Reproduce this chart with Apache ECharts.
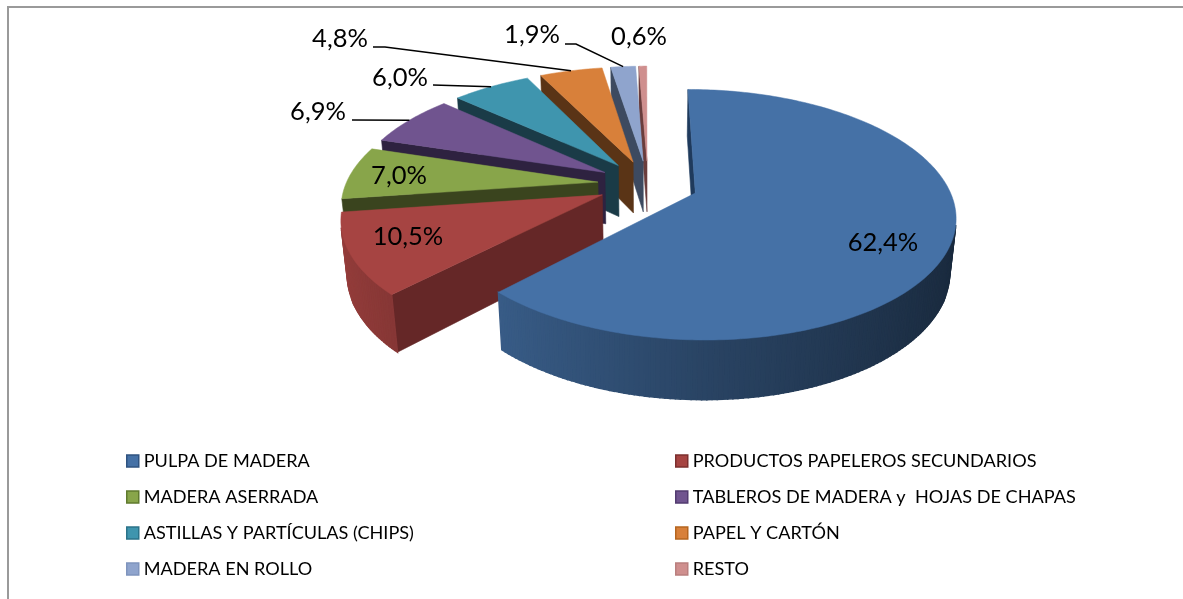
<!DOCTYPE html>
<html><head><meta charset="utf-8">
<style>html,body{margin:0;padding:0;background:#fff}#c{width:1183px;height:599px}</style>
<script src="https://cdn.jsdelivr.net/npm/echarts@6/dist/echarts.min.js"></script>
</head><body><div id="c"></div>
<script>
const categories = ['PULPA DE MADERA','PRODUCTOS PAPELEROS SECUNDARIOS','MADERA ASERRADA','TABLEROS DE MADERA y  HOJAS DE CHAPAS','ASTILLAS Y PARTÍCULAS (CHIPS)','PAPEL Y CARTÓN','MADERA EN ROLLO','RESTO'];
const shares = [62.4,10.5,7.0,6.9,6.0,4.8,1.9,0.6];
const shareLabels = ['62,4%','10,5%','7,0%','6,9%','6,0%','4,8%','1,9%','0,6%'];
const topColors = ['#4571a6','#a64442','#88a54a','#70548f','#3f95ae','#d8803a','#8fa4cd','#cf8f8e'];
const wallColors = ['#1f3a5c','#652727','#3a441e','#2e2240','#1a3b47','#5a3416','#3d4a60','#6a3d3c'];
const legendBorders = ['#2f5380','#7c2f2e','#5f7a2e','#523b70','#2b7389','#b5651f','#7f94bd','#b97f7e'];
// label centre and optional leader elbow, per slice (layout only)
const labelAt = [[883,243],[408,237],[399,176],[318,112],[400,78],[340,39],[532,35],[639,37]];
const leaderFrom = [null,null,null,[352,120],[433,85],[373,47],[565,44],null];
const leaderElbow = [null,null,null,null,null,[385,47],[576,44],null];

// projection of the tilted pie
const CX=648, CY=184, RX=252, RY=118.4, PERSP=0.171, DEPTH=53, DEPTHP=0.02, EXPLODE=0.2, START=-0.1;
const total = shares.reduce((a,b)=>a+b,0);
const rad = d=>d*Math.PI/180;
function proj(X,T,Z){const w=1-PERSP*T+DEPTHP*Z;return [CX+RX*X/w, CY+(RY*T+DEPTH*Z)/w];}
function scale(hex,f){const n=parseInt(hex.slice(1),16);const c=[n>>16&255,n>>8&255,n&255].map(v=>Math.round(Math.min(255,v*f)));return 'rgb('+c.join(',')+')';}
function area(p){let a=0;for(let i=0;i<p.length;i++){const q=p[(i+1)%p.length];a+=p[i][0]*q[1]-q[0]*p[i][1];}return a/2;}
function sliceAngles(i){let a=START;for(let k=0;k<i;k++)a+=shares[k]/total*360;return [a,a+shares[i]/total*360];}

function renderSlice(params,api){
  const i=categories.indexOf(params.seriesName);
  const [a0,a1]=sliceAngles(i);
  const mid=rad((a0+a1)/2);
  const ox=EXPLODE*Math.sin(mid), ot=-EXPLODE*Math.cos(mid);
  const pt=(deg,Z)=>proj(ox+Math.sin(rad(deg)),ot-Math.cos(rad(deg)),Z);
  const apex=z=>proj(ox,ot,z);
  const kids=[];
  const arc=[];
  const n=Math.max(2,Math.ceil(a1-a0));
  for(let k=0;k<=n;k++)arc.push(a0+(a1-a0)*k/n);
  const wall=(a,b,ab,fill,lw)=>{const poly=[a,b,ab[1],ab[0]];if(area(poly)<0)kids.push({type:'polygon',shape:{points:poly},style:{fill:fill,stroke:fill,lineWidth:lw}});};
  wall(apex(0),pt(a0,0),[apex(1),pt(a0,1)],wallColors[i],0.6);
  wall(pt(a1,0),apex(0),[pt(a1,1),apex(1)],wallColors[i],0.6);
  for(let k=0;k<n;k++){
    const s=Math.sin(rad((arc[k]+arc[k+1])/2));
    const f=s<0?0.6-0.3*s:0.6-0.24*s;
    wall(pt(arc[k],0),pt(arc[k+1],0),[pt(arc[k],1),pt(arc[k+1],1)],scale(topColors[i],f),1.5);
  }
  const top=[apex(0)].concat(arc.map(d=>pt(d,0)));
  kids.push({type:'polygon',shape:{points:top},style:{fill:topColors[i],stroke:topColors[i],lineWidth:0.5}});
  if(leaderFrom[i]){
    const pts=[leaderFrom[i]];
    if(leaderElbow[i])pts.push(leaderElbow[i]);
    pts.push(pt((a0+a1)/2,0));
    kids.push({type:'polyline',shape:{points:pts},style:{stroke:'#000',lineWidth:1.5,fill:'none'}});
  }
  kids.push({type:'text',style:{x:labelAt[i][0],y:labelAt[i][1],text:shareLabels[i],align:'center',verticalAlign:'middle',font:'25.5px Lato',fill:'#000'}});
  return {type:'group',children:kids};
}

const drawOrder=[7,6,5,4,3,2,1,0];
const series=drawOrder.map(i=>({type:'custom',name:categories[i],coordinateSystem:'none',renderItem:renderSlice,silent:true,animation:false,
  itemStyle:{color:topColors[i]},data:[shares[i]]}));
const legendData=idx=>idx.map(i=>({name:categories[i],itemStyle:{color:topColors[i],borderColor:legendBorders[i],borderWidth:1.5}}));
const legendBase={orient:'vertical',icon:'rect',itemWidth:12,itemHeight:12,itemGap:18,selectedMode:false,padding:0,textStyle:{fontFamily:'Lato',fontSize:18.1,color:'#000',padding:0},inactiveColor:'#000'};

const chart=echarts.init(document.getElementById('c'),null,{renderer:'canvas'});
chart.setOption({
  animation:false,backgroundColor:'#fff',
  legend:[
    Object.assign({},legendBase,{left:126,top:452,data:legendData([0,2,4,6])}),
    Object.assign({},legendBase,{left:675,top:452,data:legendData([1,3,5,7])})
  ],
  graphic:[{type:'polyline',shape:{points:[[8,599],[8,7],[1183,7]]},style:{stroke:'#9a9a9a',lineWidth:2,fill:'none'},silent:true}],
  series:series
});
</script></body></html>
